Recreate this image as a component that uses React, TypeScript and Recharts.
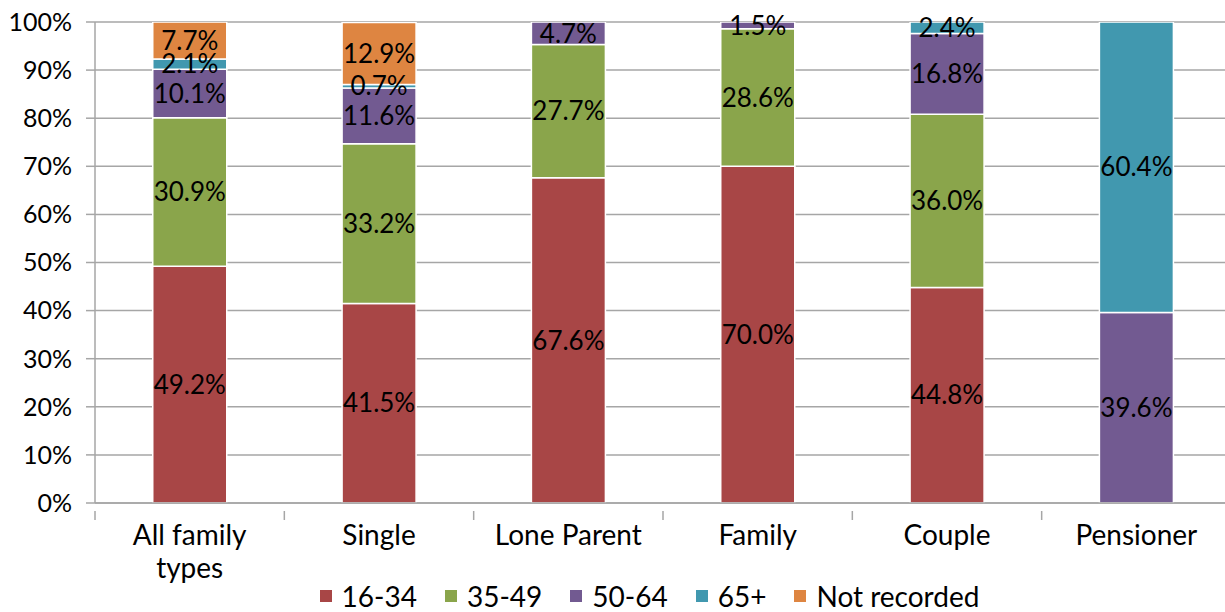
import React from "react";
import { BarChart, Bar, XAxis, YAxis, CartesianGrid, Legend, LabelList } from "recharts";

const categories = ["All family types", "Single", "Lone Parent", "Family", "Couple", "Pensioner"];
const s1634 = [49.2, 41.5, 67.6, 70.0, 44.8, 0];
const s3549 = [30.9, 33.2, 27.7, 28.6, 36.0, 0];
const s5064 = [10.1, 11.6, 4.7, 1.5, 16.8, 39.6];
const s65 = [2.1, 0.7, 0, 0, 2.4, 60.4];
const sNR = [7.7, 12.9, 0, 0, 0, 0];
const yTicks = [0, 10, 20, 30, 40, 50, 60, 70, 80, 90, 100];

const series = [
  { key: "a", name: "16-34", values: s1634, color: "#A84646" },
  { key: "b", name: "35-49", values: s3549, color: "#8AA54B" },
  { key: "c", name: "50-64", values: s5064, color: "#725A91" },
  { key: "d", name: "65+", values: s65, color: "#4198AF" },
  { key: "e", name: "Not recorded", values: sNR, color: "#DE8541" },
];

const data = categories.map((cat, i) => {
  const row: any = { cat };
  series.forEach((s) => (row[s.key] = s.values[i]));
  return row;
});

const FONT = "Lato, 'DejaVu Sans', sans-serif";
const GRID = "#A6A6A6";

const CatTick = (props: any) => {
  const { x, y, payload, index } = props;
  const label: string = payload.value;
  const half = payload.offset || 0;
  const lines = label.length > 12 ? [label.slice(0, label.lastIndexOf(" ")), label.slice(label.lastIndexOf(" ") + 1)] : [label];
  return (
    <g transform={`translate(${x},${y})`}>
      {half > 0 && <line x1={-half} x2={-half} y1={0} y2={9} stroke={GRID} strokeWidth={1.5} />}
      {half > 0 && index === categories.length - 1 && <line x1={half} x2={half} y1={0} y2={9} stroke={GRID} strokeWidth={1.5} />}
      {lines.map((l, i) => (
        <text key={i} x={0} y={i * 33} dy={34} textAnchor="middle" fill="#000" fontSize={28} fontFamily={FONT}>
          {l}
        </text>
      ))}
    </g>
  );
};

const LegendContent = () => (
  <div style={{ display: "flex", justifyContent: "center", alignItems: "center", fontFamily: FONT, fontSize: 28, color: "#000", marginLeft: 96, marginTop: 4 }}>
    {series.map((s) => (
      <div key={s.key} style={{ display: "flex", alignItems: "center", marginRight: 28 }}>
        <span style={{ display: "inline-block", width: 12, height: 12, background: s.color, marginRight: 10 }} />
        <span>{s.name}</span>
      </div>
    ))}
  </div>
);

const fmt = (v: any) => (v && Number(v) > 0 ? `${Number(v).toFixed(1)}%` : "");

export default function App() {
  return (
    <div style={{ position: "absolute", left: 0, top: 0, background: "#fff", overflow: "hidden", width: 1225, height: 612 }}>
      <BarChart
        width={1231}
        height={612}
        data={data}
        margin={{ top: 22, right: 0, left: 0, bottom: 0 }}
        barCategoryGap="30.5%"
      >
        <CartesianGrid vertical={false} stroke={GRID} strokeWidth={1.5} />
        <XAxis
          dataKey="cat"
          tick={<CatTick />}
          tickLine={false}
          axisLine={{ stroke: GRID, strokeWidth: 1.5 }}
          height={72}
          interval={0}
        />
        <YAxis
          domain={[0, 100]}
          allowDataOverflow
          ticks={yTicks}
          tickFormatter={(v: number) => `${v}%`}
          width={95}
          tickSize={9}
          tickMargin={14}
          tick={{ fill: "#000", fontSize: 25, fontFamily: FONT }}
          tickLine={{ stroke: GRID, strokeWidth: 1.5 }}
          axisLine={{ stroke: GRID, strokeWidth: 1.5 }}
        />
        <Legend verticalAlign="bottom" height={37} content={<LegendContent />} />
        {series.map((s) => (
          <Bar key={s.key} dataKey={s.key} name={s.name} stackId="s" fill={s.color} stroke="#fff" strokeWidth={1.5} isAnimationActive={false}>
            <LabelList dataKey={s.key} position="center" formatter={fmt} fill="#000" fontSize={26} fontFamily={FONT} />
          </Bar>
        ))}
      </BarChart>
    </div>
  );
}
